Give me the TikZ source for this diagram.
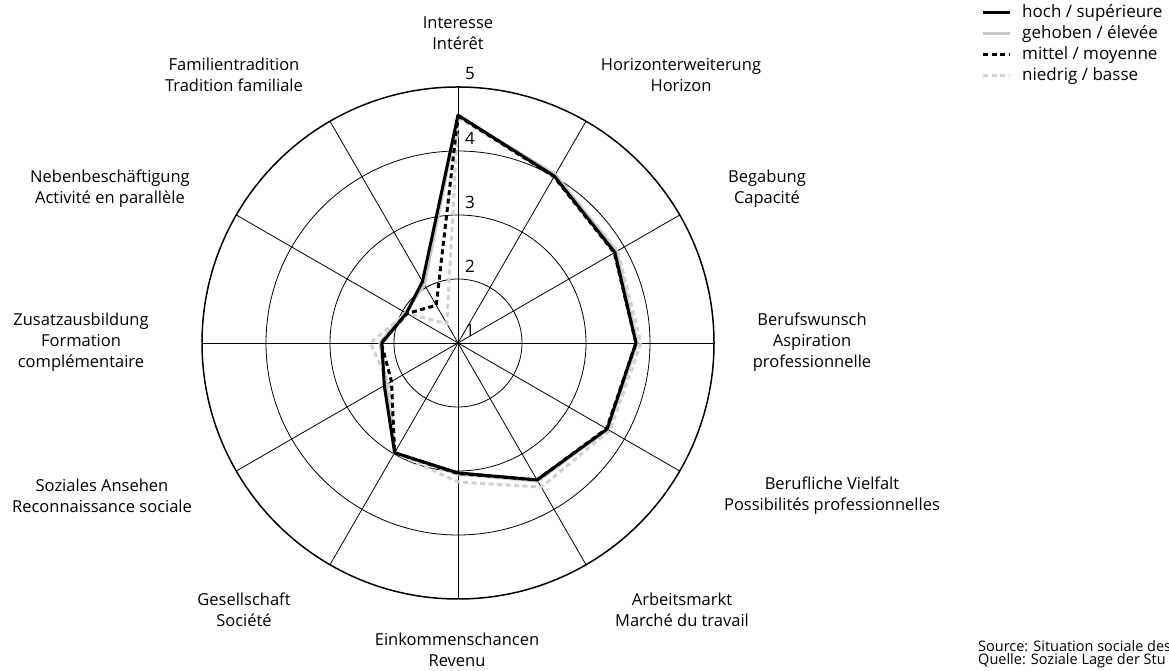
\documentclass[tikz,border=0pt]{standalone}
\usepackage{fontspec}
\setmainfont{Open Sans}
\usetikzlibrary{positioning}

\tikzset{
  gridline/.style={black, line width=0.8pt},
  rim/.style={black, line width=1.5pt},
  hoch/.style={black, line width=3pt, line join=round},
  gehoben/.style={black!22, line width=3pt, line join=round},
  mittel/.style={black, line width=3pt, dash pattern=on 5pt off 3.5pt},
  niedrig/.style={black!18, line width=3pt, dash pattern=on 5pt off 3.5pt},
  axislabel/.style={align=center, inner sep=0pt, font=\fontsize{16.5}{21}\selectfont},
  scalelabel/.style={inner sep=0pt, font=\fontsize{17}{17}\selectfont},
  legendtext/.style={anchor=west, inner sep=0pt, font=\fontsize{17}{17}\selectfont},
  sourcetext/.style={anchor=west, inner sep=0pt, font=\fontsize{14.5}{15}\selectfont},
}

\begin{document}
\begin{tikzpicture}[x=1pt,y=1pt]

        \useasboundingbox[fill=white] (0,0) rectangle (1169,671);

        \begin{scope}[shift={(458,328)}]
          \coordinate (O) at (0,0);

          % rings
          \foreach \r in {64,128,192}
            \draw[gridline] (O) circle (\r);
          \draw[rim] (O) circle (256);

          % spokes
          \foreach \a [count=\i from 0] in {90,60,...,-240} {
            \coordinate (end\i) at (\a:256);
            \draw[gridline] (O) -- (end\i);
          }

          % scale
          \foreach \n in {1,...,5}
            \node[scalelabel] (s\n) at (12,{64*(\n-1)+13}) {\n};

          % series
          \foreach \v [count=\i from 0] in {4.55,4.04,3.86,3.80,3.70,3.49,3.05,2.98,2.30,2.22,1.95,2.05}
            \coordinate (g\i) at ({90-30*\i}:{64*(\v-1)});
          \foreach \v [count=\i from 0] in {4.52,4.02,3.88,3.86,3.74,3.60,3.17,2.98,2.25,2.37,1.93,1.35}
            \coordinate (n\i) at ({90-30*\i}:{64*(\v-1)});
          \foreach \v [count=\i from 0] in {4.56,4.01,3.83,3.78,3.69,3.47,3.03,2.98,2.33,2.19,1.93,2.11}
            \coordinate (h\i) at ({90-30*\i}:{64*(\v-1)});
          \foreach \v [count=\i from 0] in {4.55,4.00,3.82,3.78,3.68,3.47,3.04,2.98,2.20,2.20,1.92,1.68}
            \coordinate (m\i) at ({90-30*\i}:{64*(\v-1)});

          \draw[gehoben] (g0) \foreach \i in {1,...,11} {-- (g\i)} -- cycle;
          \draw[niedrig] (n0) \foreach \i in {1,...,11} {-- (n\i)} -- cycle;
          \draw[hoch] (h0) \foreach \i in {1,...,11} {-- (h\i)} -- cycle;
          \draw[mittel] (m0) \foreach \i in {1,...,11} {-- (m\i)} -- cycle;

          % axis labels
          \node[axislabel] (interesse) at (0,310) {Interesse\\Intérêt};
          \node[axislabel] (horizont)  at (223,268) {Horizonterweiterung\\Horizon};
          \node[axislabel] (begabung)  at (309,154) {Begabung\\Capacité};
          \node[axislabel] (wunsch)    at (354,1) {Berufswunsch\\Aspiration\\professionnelle};
          \node[axislabel] (vielfalt)  at (374,-153) {Berufliche Vielfalt\\Possibilités professionnelles};
          \node[axislabel] (markt)     at (224,-267) {Arbeitsmarkt\\Marché du travail};
          \node[axislabel] (einkommen) at (-1,-307) {Einkommenschancen\\Revenu};
          \node[axislabel] (gesell)    at (-214,-267) {Gesellschaft\\Société};
          \node[axislabel] (ansehen)   at (-356,-153) {Soziales Ansehen\\Reconnaissance sociale};
          \node[axislabel] (zusatz)    at (-377,1) {Zusatzausbildung\\Formation\\complémentaire};
          \node[axislabel] (neben)     at (-348,154) {Nebenbeschäftigung\\Activité en parallèle};
          \node[axislabel] (familie)   at (-224,268) {Familientradition\\Tradition familiale};
        \end{scope}

        % legend
        \coordinate (la1) at (983,658); \coordinate (lb1) at (1010,658);
        \coordinate (la2) at (983,637); \coordinate (lb2) at (1010,637);
        \coordinate (la3) at (983,616); \coordinate (lb3) at (1010,616);
        \coordinate (la4) at (983,595); \coordinate (lb4) at (1010,595);
        \draw[hoch]    (la1) -- (lb1);
        \draw[gehoben] (la2) -- (lb2);
        \draw[mittel]  (la3) -- (lb3);
        \draw[niedrig] (la4) -- (lb4);
        \node[legendtext] (lt1) at (1022,658) {hoch / supérieure};
        \node[legendtext] (lt2) at (1022,637) {gehoben / élevée};
        \node[legendtext] (lt3) at (1022,616) {mittel / moyenne};
        \node[legendtext] (lt4) at (1022,595) {niedrig / basse};

        % source
        \node[sourcetext] (src1) at (978,25) {Source: Situation sociale des};
        \node[sourcetext] (src2) at (978,10) {Quelle: Soziale Lage der Stu};

      \end{tikzpicture}
\end{document}
